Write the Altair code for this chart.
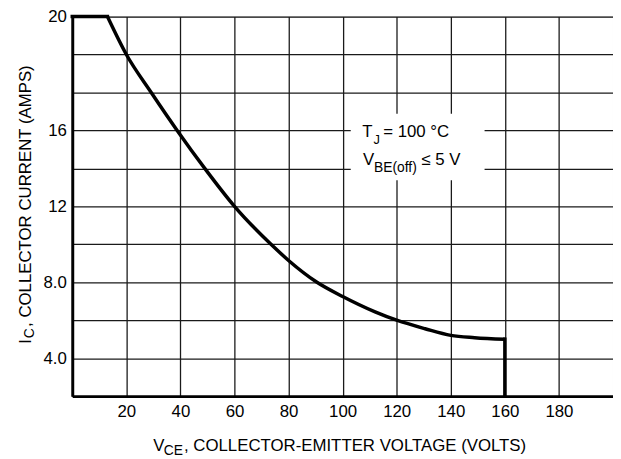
import altair as alt
import pandas as pd

# ---- data ----
flat_v = [0, 13]
flat_i = [22, 22]
curve_v = [13, 20, 29.2, 38.8, 49, 60, 73.5, 80, 90.5, 100, 112, 120, 130.5, 140, 148.8, 160]
curve_i = [22, 20, 18, 16, 14, 12, 10, 9.15, 8, 7.25, 6.44, 6.0, 5.55, 5.2, 5.08, 5.0]
drop_v = [160, 160]
drop_i = [5.0, 2]

x_grid = [0, 20, 40, 60, 80, 100, 120, 140, 160, 180]
x_tick_labels = [20, 40, 60, 80, 100, 120, 140, 160, 180]
y_grid = [2, 4, 6, 8, 10, 12, 14, 16, 18, 20, 22]
y_tick_values = [4, 8, 12, 16, 22]
y_tick_text = ["4.0", "8.0", "12", "16", "20"]

FONT = "Liberation Sans"

lines = pd.DataFrame({
    "v": flat_v + drop_v,
    "i": flat_i + drop_i,
    "seg": ["flat"] * len(flat_v) + ["drop"] * len(drop_v),
    "o": list(range(len(flat_v))) + list(range(len(drop_v))),
})
curve = pd.DataFrame({"v": curve_v, "i": curve_i, "o": list(range(len(curve_v)))})

x_expr = " || ".join(f"datum.value == {v}" for v in x_tick_labels)
x_label_expr = f"({x_expr}) ? datum.label : ''"
y_label_expr = "".join(
    f"datum.value == {v} ? '{t}' : " for v, t in zip(y_tick_values, y_tick_text)
) + "''"

xscale = alt.Scale(domain=[0, 200], nice=False, zero=False)
yscale = alt.Scale(domain=[2, 22], nice=False, zero=False)

common_axis = dict(
    title=None, grid=True, gridColor="#1a1a1a", gridWidth=1.3, gridOpacity=1,
    domainColor="#000000", domainWidth=3, ticks=False, tickCount=40,
    labelFont=FONT, labelFontSize=17, labelColor="#000000",
    labelFlush=False, labelOverlap=False,
)
xaxis = alt.Axis(values=x_grid, labelExpr=x_label_expr, labelPadding=8, **common_axis)
yaxis = alt.Axis(values=y_grid, labelExpr=y_label_expr, labelPadding=6, **common_axis)

base_lines = alt.Chart(lines).mark_line(color="black", strokeWidth=3.5, strokeCap="square").encode(
    x=alt.X("v:Q", scale=xscale, axis=xaxis),
    y=alt.Y("i:Q", scale=yscale, axis=yaxis),
    detail="seg:N",
    order="o:Q",
)
curve_line = alt.Chart(curve).mark_line(color="black", strokeWidth=3.5, interpolate="monotone").encode(
    x=alt.X("v:Q", scale=xscale, axis=xaxis),
    y=alt.Y("i:Q", scale=yscale, axis=yaxis),
    order="o:Q",
)

one = alt.Chart(pd.DataFrame({"a": [0]}))

box = one.mark_rect(color="white").encode(
    x=alt.datum(103), x2=alt.datum(152.5), y=alt.datum(16.88), y2=alt.datum(13.38)
)

def txt(s, x, y, size=17, angle=0):
    return one.mark_text(text=s, font=FONT, fontSize=size, color="black", align="left",
                         baseline="alphabetic", angle=angle).encode(x=x, y=y)

annot = [
    txt("T", alt.datum(107.3), alt.datum(15.63)),
    txt("J", alt.datum(111.4), alt.datum(15.26), 13),
    txt("= 100 °C", alt.datum(115.0), alt.datum(15.63)),
    txt("V", alt.datum(107.5), alt.datum(14.17)),
    txt("BE(off)", alt.datum(111.6), alt.datum(13.8), 14),
    txt("≤ 5 V", alt.datum(129.1), alt.datum(14.17)),
]

titles = [
    txt("V", alt.value(82), alt.value(439)),
    txt("CE", alt.value(92.5), alt.value(444), 14),
    txt(", COLLECTOR-EMITTER VOLTAGE (VOLTS)", alt.value(113), alt.value(439)),
    txt("I", alt.value(-42), alt.value(331), 17, 270),
    txt("C", alt.value(-38.5), alt.value(325.5), 14, 270),
    txt(", COLLECTOR CURRENT (AMPS)", alt.value(-42), alt.value(314), 17, 270),
]

chart = alt.layer(base_lines, box, curve_line, *annot, *titles).properties(
    width=547, height=384,
    padding={"left": 65, "top": 6, "right": 0, "bottom": 66},
    autosize=alt.AutoSizeParams(type="none"),
).configure_view(stroke="#aaaaaa", strokeWidth=1)

chart.save("out.html", embed_options={"renderer": "svg", "actions": False})
